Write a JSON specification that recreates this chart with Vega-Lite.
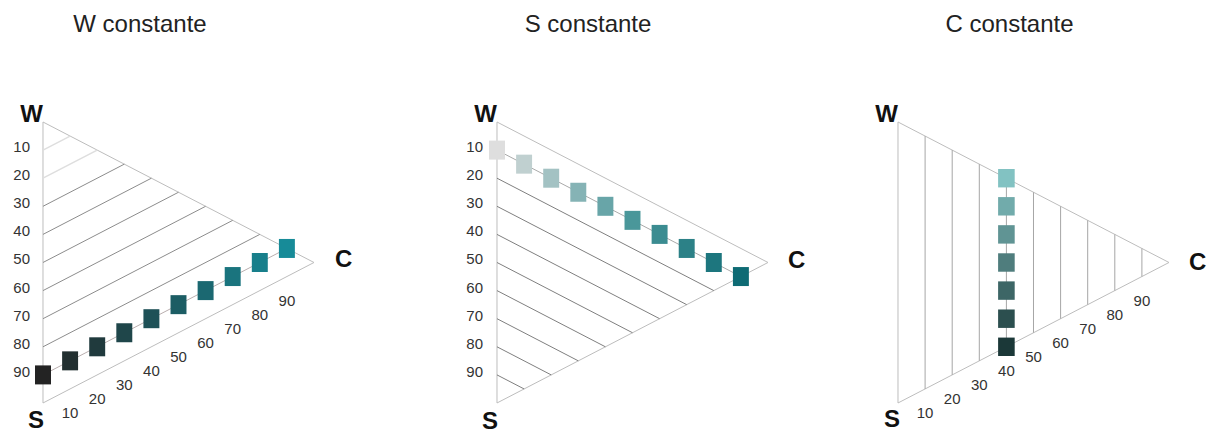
{
  "$schema": "https://vega.github.io/schema/vega-lite/v6.json",
  "background": "white",
  "padding": {"left": 0, "right": 0, "top": 13, "bottom": 0},
  "spacing": 0,
  "bounds": "flush",
  "config": {
    "view": {"stroke": null},
    "title": {"font": "Liberation Sans", "fontSize": 24, "fontWeight": "normal", "color": "#222222", "anchor": "middle", "baseline": "top", "offset": 23},
    "text": {"font": "Liberation Sans"}
  },
  "resolve": {"scale": {"color": "independent"}},
  "datasets": {
    "lines1": [
      {"k": "edge", "w": 100, "c": 0, "w2": 0, "c2": 0},
      {"k": "edge", "w": 100, "c": 0, "w2": 0, "c2": 100},
      {"k": "edge", "w": 0, "c": 0, "w2": 0, "c2": 100},
      {"k": "faint", "w": 90, "c": 0, "w2": 90, "c2": 10},
      {"k": "faint", "w": 80, "c": 0, "w2": 80, "c2": 20},
      {"k": "grid", "w": 70, "c": 0, "w2": 70, "c2": 30},
      {"k": "grid", "w": 60, "c": 0, "w2": 60, "c2": 40},
      {"k": "grid", "w": 50, "c": 0, "w2": 50, "c2": 50},
      {"k": "grid", "w": 40, "c": 0, "w2": 40, "c2": 60},
      {"k": "grid", "w": 30, "c": 0, "w2": 30, "c2": 70},
      {"k": "grid", "w": 20, "c": 0, "w2": 20, "c2": 80},
      {"k": "link", "w": 10, "c": 0, "w2": 10, "c2": 90}
    ],
    "lines2": [
      {"k": "edge", "w": 100, "c": 0, "w2": 0, "c2": 0},
      {"k": "edge", "w": 100, "c": 0, "w2": 0, "c2": 100},
      {"k": "edge", "w": 0, "c": 0, "w2": 0, "c2": 100},
      {"k": "link", "w": 90, "c": 0, "w2": 0, "c2": 90},
      {"k": "grid", "w": 80, "c": 0, "w2": 0, "c2": 80},
      {"k": "grid", "w": 70, "c": 0, "w2": 0, "c2": 70},
      {"k": "grid", "w": 60, "c": 0, "w2": 0, "c2": 60},
      {"k": "grid", "w": 50, "c": 0, "w2": 0, "c2": 50},
      {"k": "grid", "w": 40, "c": 0, "w2": 0, "c2": 40},
      {"k": "grid", "w": 30, "c": 0, "w2": 0, "c2": 30},
      {"k": "grid", "w": 20, "c": 0, "w2": 0, "c2": 20},
      {"k": "grid", "w": 10, "c": 0, "w2": 0, "c2": 10}
    ],
    "lines3": [
      {"k": "edge", "w": 100, "c": 0, "w2": 0, "c2": 0},
      {"k": "edge", "w": 100, "c": 0, "w2": 0, "c2": 100},
      {"k": "edge", "w": 0, "c": 0, "w2": 0, "c2": 100},
      {"k": "grid", "w": 0, "c": 10, "w2": 90, "c2": 10},
      {"k": "grid", "w": 0, "c": 20, "w2": 80, "c2": 20},
      {"k": "grid", "w": 0, "c": 30, "w2": 70, "c2": 30},
      {"k": "grid", "w": 0, "c": 40, "w2": 60, "c2": 40},
      {"k": "grid", "w": 0, "c": 50, "w2": 50, "c2": 50},
      {"k": "grid", "w": 0, "c": 60, "w2": 40, "c2": 60},
      {"k": "grid", "w": 0, "c": 70, "w2": 30, "c2": 70},
      {"k": "grid", "w": 0, "c": 80, "w2": 20, "c2": 80},
      {"k": "grid", "w": 0, "c": 90, "w2": 10, "c2": 90}
    ],
    "pts1": [
      {"w": 10, "c": 0}, {"w": 10, "c": 10}, {"w": 10, "c": 20}, {"w": 10, "c": 30}, {"w": 10, "c": 40},
      {"w": 10, "c": 50}, {"w": 10, "c": 60}, {"w": 10, "c": 70}, {"w": 10, "c": 80}, {"w": 10, "c": 90}
    ],
    "pts2": [
      {"w": 90, "c": 0}, {"w": 80, "c": 10}, {"w": 70, "c": 20}, {"w": 60, "c": 30}, {"w": 50, "c": 40},
      {"w": 40, "c": 50}, {"w": 30, "c": 60}, {"w": 20, "c": 70}, {"w": 10, "c": 80}, {"w": 0, "c": 90}
    ],
    "pts3": [
      {"w": 0, "c": 40}, {"w": 10, "c": 40}, {"w": 20, "c": 40}, {"w": 30, "c": 40},
      {"w": 40, "c": 40}, {"w": 50, "c": 40}, {"w": 60, "c": 40}
    ],
    "left": [
      {"v": 10, "w": 90, "c": 0}, {"v": 20, "w": 80, "c": 0}, {"v": 30, "w": 70, "c": 0},
      {"v": 40, "w": 60, "c": 0}, {"v": 50, "w": 50, "c": 0}, {"v": 60, "w": 40, "c": 0},
      {"v": 70, "w": 30, "c": 0}, {"v": 80, "w": 20, "c": 0}, {"v": 90, "w": 10, "c": 0}
    ],
    "bottom": [
      {"v": 10, "w": 0, "c": 10}, {"v": 20, "w": 0, "c": 20}, {"v": 30, "w": 0, "c": 30},
      {"v": 40, "w": 0, "c": 40}, {"v": 50, "w": 0, "c": 50}, {"v": 60, "w": 0, "c": 60},
      {"v": 70, "w": 0, "c": 70}, {"v": 80, "w": 0, "c": 80}, {"v": 90, "w": 0, "c": 90}
    ],
    "vert": [
      {"n": "W", "w": 100, "c": 0}, {"n": "S", "w": 0, "c": 0}, {"n": "C", "w": 0, "c": 100}
    ]
  },
  "hconcat": [
    {
      "width": 420, "height": 378,
      "title": {"text": "W constante", "dx": -70},
      "encoding": {
        "x": {"field": "c", "type": "quantitative", "scale": {"domain": [-15.867, 139.114], "nice": false, "zero": false}, "axis": null},
        "y": {"field": "py", "type": "quantitative", "scale": {"domain": [-12.456, 122.064], "nice": false, "zero": false}, "axis": null}
      },
      "layer": [
        {"data": {"name": "lines1"}, "transform": [{"filter": "datum.k == 'edge'"}, {"calculate": "datum.w + datum.c/2", "as": "py"}, {"calculate": "datum.w2 + datum.c2/2", "as": "py2"}],
         "mark": {"type": "rule", "color": "#bdbdbd", "strokeWidth": 1}, "encoding": {"x2": {"field": "c2"}, "y2": {"field": "py2"}}},
        {"data": {"name": "lines1"}, "transform": [{"filter": "datum.k == 'grid'"}, {"calculate": "datum.w + datum.c/2", "as": "py"}, {"calculate": "datum.w2 + datum.c2/2", "as": "py2"}],
         "mark": {"type": "rule", "color": "#8c8c8c", "strokeWidth": 1}, "encoding": {"x2": {"field": "c2"}, "y2": {"field": "py2"}}},
        {"data": {"name": "lines1"}, "transform": [{"filter": "datum.k == 'faint'"}, {"calculate": "datum.w + datum.c/2", "as": "py"}, {"calculate": "datum.w2 + datum.c2/2", "as": "py2"}],
         "mark": {"type": "rule", "color": "#dedede", "strokeWidth": 1.5}, "encoding": {"x2": {"field": "c2"}, "y2": {"field": "py2"}}},
        {"data": {"name": "lines1"}, "transform": [{"filter": "datum.k == 'link'"}, {"calculate": "datum.w + datum.c/2", "as": "py"}, {"calculate": "datum.w2 + datum.c2/2", "as": "py2"}],
         "mark": {"type": "rule", "color": "#b9aeae", "strokeWidth": 1}, "encoding": {"x2": {"field": "c2"}, "y2": {"field": "py2"}}},
        {"data": {"name": "pts1"}, "transform": [{"calculate": "datum.w + datum.c/2", "as": "py"}],
         "mark": {"type": "point", "shape": "M-0.84,-1H0.84V1H-0.84Z", "filled": true, "size": 361, "opacity": 1},
         "encoding": {"color": {"field": "c", "type": "quantitative", "scale": {"domain": [0, 90], "range": ["#232323", "#178b98"], "interpolate": "rgb"}, "legend": null}}},
        {"data": {"name": "left"}, "transform": [{"calculate": "datum.w + datum.c/2", "as": "py"}],
         "mark": {"type": "text", "align": "right", "baseline": "middle", "dx": -13, "dy": -3, "fontSize": 15, "color": "#333333"},
         "encoding": {"text": {"field": "v", "type": "quantitative"}}},
        {"data": {"name": "bottom"}, "transform": [{"calculate": "datum.w + datum.c/2", "as": "py"}],
         "mark": {"type": "text", "align": "center", "baseline": "middle", "dy": 24, "fontSize": 15, "color": "#333333"},
         "encoding": {"text": {"field": "v", "type": "quantitative"}}},
        {"data": {"name": "vert"}, "transform": [{"filter": "datum.n == 'W'"}, {"calculate": "datum.w + datum.c/2", "as": "py"}],
         "mark": {"type": "text", "align": "right", "baseline": "alphabetic", "dx": 0, "dy": 0, "fontSize": 24, "fontWeight": "bold", "color": "#111111"},
         "encoding": {"text": {"field": "n"}}},
        {"data": {"name": "vert"}, "transform": [{"filter": "datum.n == 'S'"}, {"calculate": "datum.w + datum.c/2", "as": "py"}],
         "mark": {"type": "text", "align": "right", "baseline": "alphabetic", "dx": 1, "dy": 25, "fontSize": 24, "fontWeight": "bold", "color": "#111111"},
         "encoding": {"text": {"field": "n"}}},
        {"data": {"name": "vert"}, "transform": [{"filter": "datum.n == 'C'"}, {"calculate": "datum.w + datum.c/2", "as": "py"}],
         "mark": {"type": "text", "align": "left", "baseline": "alphabetic", "dx": 21, "dy": 5, "fontSize": 24, "fontWeight": "bold", "color": "#111111"},
         "encoding": {"text": {"field": "n"}}}
      ]
    },
    {
      "width": 410, "height": 378,
      "title": {"text": "S constante", "dx": -37},
      "encoding": {
        "x": {"field": "c", "type": "quantitative", "scale": {"domain": [-28.413, 122.878], "nice": false, "zero": false}, "axis": null},
        "y": {"field": "py", "type": "quantitative", "scale": {"domain": [-12.456, 122.064], "nice": false, "zero": false}, "axis": null}
      },
      "layer": [
        {"data": {"name": "lines2"}, "transform": [{"filter": "datum.k == 'edge'"}, {"calculate": "datum.w + datum.c/2", "as": "py"}, {"calculate": "datum.w2 + datum.c2/2", "as": "py2"}],
         "mark": {"type": "rule", "color": "#bdbdbd", "strokeWidth": 1}, "encoding": {"x2": {"field": "c2"}, "y2": {"field": "py2"}}},
        {"data": {"name": "lines2"}, "transform": [{"filter": "datum.k == 'grid'"}, {"calculate": "datum.w + datum.c/2", "as": "py"}, {"calculate": "datum.w2 + datum.c2/2", "as": "py2"}],
         "mark": {"type": "rule", "color": "#7f7f7f", "strokeWidth": 1}, "encoding": {"x2": {"field": "c2"}, "y2": {"field": "py2"}}},
        {"data": {"name": "lines2"}, "transform": [{"filter": "datum.k == 'link'"}, {"calculate": "datum.w + datum.c/2", "as": "py"}, {"calculate": "datum.w2 + datum.c2/2", "as": "py2"}],
         "mark": {"type": "rule", "color": "#a9a9a9", "strokeWidth": 1}, "encoding": {"x2": {"field": "c2"}, "y2": {"field": "py2"}}},
        {"data": {"name": "pts2"}, "transform": [{"calculate": "datum.w + datum.c/2", "as": "py"}],
         "mark": {"type": "point", "shape": "M-0.84,-1H0.84V1H-0.84Z", "filled": true, "size": 361, "opacity": 1},
         "encoding": {"color": {"field": "c", "type": "quantitative", "scale": {"domain": [0, 50, 90], "range": ["#dedede", "#4a979a", "#0e6b74"], "interpolate": "rgb"}, "legend": null}}},
        {"data": {"name": "left"}, "transform": [{"calculate": "datum.w + datum.c/2", "as": "py"}],
         "mark": {"type": "text", "align": "right", "baseline": "middle", "dx": -14, "dy": -3, "fontSize": 15, "color": "#333333"},
         "encoding": {"text": {"field": "v", "type": "quantitative"}}},
        {"data": {"name": "vert"}, "transform": [{"filter": "datum.n == 'W'"}, {"calculate": "datum.w + datum.c/2", "as": "py"}],
         "mark": {"type": "text", "align": "right", "baseline": "alphabetic", "dx": 0, "dy": 0, "fontSize": 24, "fontWeight": "bold", "color": "#111111"},
         "encoding": {"text": {"field": "n"}}},
        {"data": {"name": "vert"}, "transform": [{"filter": "datum.n == 'S'"}, {"calculate": "datum.w + datum.c/2", "as": "py"}],
         "mark": {"type": "text", "align": "right", "baseline": "alphabetic", "dx": 1, "dy": 26, "fontSize": 24, "fontWeight": "bold", "color": "#111111"},
         "encoding": {"text": {"field": "n"}}},
        {"data": {"name": "vert"}, "transform": [{"filter": "datum.n == 'C'"}, {"calculate": "datum.w + datum.c/2", "as": "py"}],
         "mark": {"type": "text", "align": "left", "baseline": "alphabetic", "dx": 20, "dy": 6, "fontSize": 24, "fontWeight": "bold", "color": "#111111"},
         "encoding": {"text": {"field": "n"}}}
      ]
    },
    {
      "width": 383, "height": 378,
      "title": {"text": "C constante", "dx": -12},
      "encoding": {
        "x": {"field": "c", "type": "quantitative", "scale": {"domain": [-25.092, 116.236], "nice": false, "zero": false}, "axis": null},
        "y": {"field": "py", "type": "quantitative", "scale": {"domain": [-12.456, 122.064], "nice": false, "zero": false}, "axis": null}
      },
      "layer": [
        {"data": {"name": "lines3"}, "transform": [{"filter": "datum.k == 'edge'"}, {"calculate": "datum.w + datum.c/2", "as": "py"}, {"calculate": "datum.w2 + datum.c2/2", "as": "py2"}],
         "mark": {"type": "rule", "color": "#bdbdbd", "strokeWidth": 1}, "encoding": {"x2": {"field": "c2"}, "y2": {"field": "py2"}}},
        {"data": {"name": "lines3"}, "transform": [{"filter": "datum.k == 'grid'"}, {"calculate": "datum.w + datum.c/2", "as": "py"}, {"calculate": "datum.w2 + datum.c2/2", "as": "py2"}],
         "mark": {"type": "rule", "color": "#a6a6a6", "strokeWidth": 1}, "encoding": {"x2": {"field": "c2"}, "y2": {"field": "py2"}}},
        {"data": {"name": "pts3"}, "transform": [{"calculate": "datum.w + datum.c/2", "as": "py"}],
         "mark": {"type": "point", "shape": "M-0.9,-1H0.9V1H-0.9Z", "filled": true, "size": 340, "opacity": 1},
         "encoding": {"color": {"field": "w", "type": "quantitative", "scale": {"domain": [0, 60], "range": ["#1b3838", "#82c2c2"], "interpolate": "rgb"}, "legend": null}}},
        {"data": {"name": "bottom"}, "transform": [{"calculate": "datum.w + datum.c/2", "as": "py"}],
         "mark": {"type": "text", "align": "center", "baseline": "middle", "dy": 24, "fontSize": 15, "color": "#333333"},
         "encoding": {"text": {"field": "v", "type": "quantitative"}}},
        {"data": {"name": "vert"}, "transform": [{"filter": "datum.n == 'W'"}, {"calculate": "datum.w + datum.c/2", "as": "py"}],
         "mark": {"type": "text", "align": "right", "baseline": "alphabetic", "dx": 0, "dy": 0, "fontSize": 24, "fontWeight": "bold", "color": "#111111"},
         "encoding": {"text": {"field": "n"}}},
        {"data": {"name": "vert"}, "transform": [{"filter": "datum.n == 'S'"}, {"calculate": "datum.w + datum.c/2", "as": "py"}],
         "mark": {"type": "text", "align": "right", "baseline": "alphabetic", "dx": 2, "dy": 24, "fontSize": 24, "fontWeight": "bold", "color": "#111111"},
         "encoding": {"text": {"field": "n"}}},
        {"data": {"name": "vert"}, "transform": [{"filter": "datum.n == 'C'"}, {"calculate": "datum.w + datum.c/2", "as": "py"}],
         "mark": {"type": "text", "align": "left", "baseline": "alphabetic", "dx": 20, "dy": 8, "fontSize": 24, "fontWeight": "bold", "color": "#111111"},
         "encoding": {"text": {"field": "n"}}}
      ]
    }
  ]
}
